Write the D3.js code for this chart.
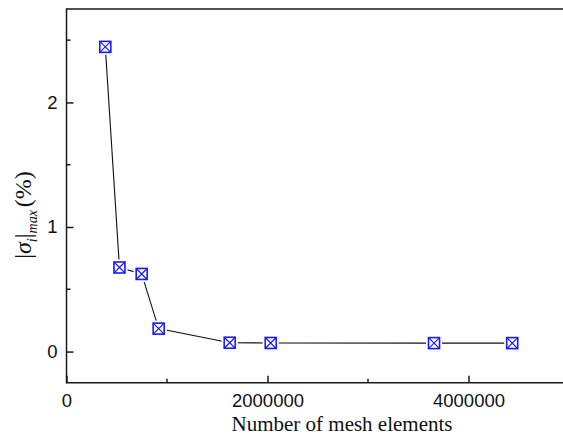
<!DOCTYPE html>
<html>
<head>
<meta charset="utf-8">
<script src="https://cdn.jsdelivr.net/npm/d3@7"></script>
<style>
  html, body { margin: 0; padding: 0; background: #fff; }
  svg { display: block; }
</style>
</head>
<body>
<svg id="chart" width="563" height="440"></svg>
<script>
// Data
const meshElements = [386000, 527000, 748000, 917000, 1624000, 2032000, 3657000, 4435000];
const sigmaMax = [2.446, 0.675, 0.623, 0.184, 0.071, 0.069, 0.068, 0.068];
const xMajorTicks = [0, 2000000, 4000000];
const xMinorTicks = [1000000, 3000000];
const yMajorTicks = [0, 1, 2];
const yMinorTicks = [0.5, 1.5, 2.5];

(function () {
const svg = d3.select('#chart');
const pLeft = 66.5, pRight = 569, pTop = 9, pBottom = 382.7;

const x = d3.scaleLinear().domain([0, 5000000]).range([pLeft, pRight]);
const y = d3.scaleLinear().domain([-0.25, 2.75]).range([pBottom, pTop]);

const axisColor = '#1a1a1a';

// frame lines
svg.append('line').attr('x1', pLeft).attr('x2', 563).attr('y1', pTop).attr('y2', pTop)
  .attr('stroke', axisColor).attr('stroke-width', 1.5);
svg.append('line').attr('x1', pLeft).attr('x2', 563).attr('y1', pBottom).attr('y2', pBottom)
  .attr('stroke', axisColor).attr('stroke-width', 1.5);
svg.append('line').attr('x1', pLeft).attr('x2', pLeft).attr('y1', pTop - 0.75).attr('y2', pBottom + 0.75)
  .attr('stroke', axisColor).attr('stroke-width', 1.5);

// Bottom axis (ticks inward)
const xAxis = d3.axisBottom(x).tickValues(xMajorTicks).tickSizeInner(-7).tickSizeOuter(0)
  .tickPadding(11).tickFormat(d3.format('d'));
const gx = svg.append('g').attr('transform', `translate(0,${pBottom})`).call(xAxis);
gx.select('.domain').remove();
gx.selectAll('.tick line').attr('stroke', axisColor).attr('stroke-width', 1.5);
gx.selectAll('.tick text').attr('font-family', 'Liberation Sans, Arial, sans-serif')
  .attr('font-size', 18.5).attr('fill', '#111');
gx.selectAll('.minor').data(xMinorTicks).enter().append('line')
  .attr('x1', d => x(d)).attr('x2', d => x(d)).attr('y1', 0).attr('y2', -4)
  .attr('stroke', axisColor).attr('stroke-width', 1.5);

// Left axis (ticks inward)
const yAxis = d3.axisLeft(y).tickValues(yMajorTicks).tickSizeInner(-7).tickSizeOuter(0)
  .tickPadding(9).tickFormat(d3.format('d'));
const gy = svg.append('g').attr('transform', `translate(${pLeft},0)`).call(yAxis);
gy.select('.domain').remove();
gy.selectAll('.tick line').attr('stroke', axisColor).attr('stroke-width', 1.5);
gy.selectAll('.tick text').attr('font-family', 'Liberation Sans, Arial, sans-serif')
  .attr('font-size', 18.5).attr('fill', '#111');
gy.selectAll('.minor').data(yMinorTicks).enter().append('line')
  .attr('x1', 0).attr('x2', 4).attr('y1', d => y(d)).attr('y2', d => y(d))
  .attr('stroke', axisColor).attr('stroke-width', 1.5);

// Line
const pts = meshElements.map((m, i) => [m, sigmaMax[i]]);
svg.append('path').datum(pts)
  .attr('d', d3.line().x(d => x(d[0])).y(d => y(d[1])))
  .attr('fill', 'none').attr('stroke', '#111').attr('stroke-width', 1.1);

// Markers
const s = 11, h = s / 2;
const mk = svg.append('g').selectAll('g').data(pts).enter().append('g')
  .attr('transform', d => `translate(${x(d[0])},${y(d[1])})`);
mk.append('rect').attr('x', -h - 2.5).attr('y', -h - 2.5).attr('width', s + 5).attr('height', s + 5)
  .attr('fill', '#fff');
mk.append('rect').attr('x', -h).attr('y', -h).attr('width', s).attr('height', s)
  .attr('fill', '#fff').attr('stroke', '#1a1aff').attr('stroke-width', 1.6);
mk.append('path').attr('d', `M${-h},${-h}L${h},${h}M${-h},${h}L${h},${-h}`)
  .attr('stroke', '#1a1aff').attr('stroke-width', 1.2);

// X axis title
svg.append('text').attr('x', 342).attr('y', 431).attr('text-anchor', 'middle')
  .attr('font-family', 'Liberation Serif, Times New Roman, serif').attr('font-size', 21)
  .attr('fill', '#111').text('Number of mesh elements');

// Y axis title
const yt = svg.append('text')
  .attr('transform', 'translate(31,215) rotate(-90)')
  .attr('text-anchor', 'middle')
  .attr('font-family', 'Liberation Serif, Times New Roman, serif').attr('font-size', 24)
  .attr('fill', '#111');
yt.append('tspan').text('|');
yt.append('tspan').attr('font-style', 'italic').text('σ');
yt.append('tspan').attr('font-style', 'italic').attr('font-size', 14).attr('dy', 6).text('i');
yt.append('tspan').attr('dy', -6).text('|');
yt.append('tspan').attr('font-style', 'italic').attr('font-size', 14).attr('dy', 6).text('max');
yt.append('tspan').attr('dy', -6).attr('dx', 3).text('(%)');
})();
</script>
</body>
</html>
